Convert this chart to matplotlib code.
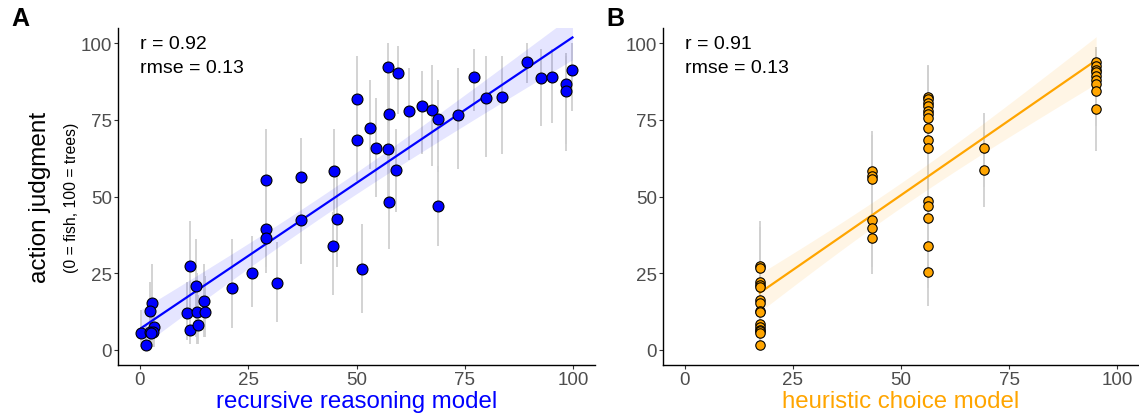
import numpy as np
import matplotlib
matplotlib.use('Agg')
from matplotlib import pyplot as plt

plt.rcParams['font.family'] = ['Liberation Sans', 'DejaVu Sans']

# ---- panel A: recursive reasoning model ----
rr_model = [0.4, 1.4, 2.9, 2.3, 3.2, 2.3, 3.1, 2.5, 11.7, 13.1, 14.9, 10.8, 13.2, 15.0, 11.5, 13.5,
            21.2, 26.0, 31.6, 29.2, 29.2, 29.2, 37.3, 37.3, 44.9, 45.5, 44.5, 50.1, 50.1, 53.2, 54.4,
            57.3, 59.5, 57.5, 57.2, 59.1, 57.5, 62.2, 65.0, 67.4, 68.9, 68.9, 51.2, 73.5, 77.0, 79.9,
            83.5, 89.3, 92.6, 95.1, 98.2, 98.2, 99.8]
rr_judg = [5.4, 1.4, 15.3, 12.5, 7.3, 5.7, 5.7, 5.4, 27.2, 20.9, 16.0, 12.1, 12.4, 12.4, 6.3, 7.9,
           20.0, 25.0, 21.7, 55.4, 39.5, 36.3, 56.4, 42.2, 58.2, 42.8, 33.8, 81.8, 68.5, 72.3, 65.8,
           92.4, 90.2, 77.0, 65.6, 58.5, 48.3, 77.8, 79.5, 78.3, 75.2, 46.8, 26.2, 76.5, 89.0, 82.1,
           82.4, 94.0, 88.7, 88.9, 86.7, 84.4, 91.3]
rr_lo = [1, 0, 3, 3, 1, 1, 1, 1, 10, 4, 4, 3, 2, 4, 2, 2,
         7, 14, 9, 38, 27, 25, 44, 28, 42, 27, 18, 66, 55, 59, 50,
         78, 77, 60, 46, 45, 33, 62, 64, 60, 58, 34, 12, 59, 78, 63,
         64, 87, 73, 74, 67, 65, 78]
rr_hi = [13, 8, 28, 22, 14, 12, 12, 11, 42, 36, 28, 22, 25, 24, 15, 18,
         36, 37, 35, 72, 52, 48, 69, 56, 72, 58, 45, 96, 82, 88, 82,
         100, 99, 90, 78, 72, 62, 92, 91, 93, 88, 60, 41, 92, 98, 96,
         96, 100, 98, 98, 97, 96, 100]

# ---- panel B: heuristic choice model ----
hc_model = [17.35] * 15 + [43.2] * 6 + [56.2] * 15 + [69.2] * 2 + [95.1] * 9
hc_judg = [27.4, 26.5, 22.0, 21.2, 20.3, 16.2, 15.4, 12.7, 12.3, 8.4, 7.5, 6.5, 6.0, 5.6, 1.6,
           58.2, 56.8, 55.7, 42.4, 39.6, 36.4,
           82.4, 81.8, 80.6, 79.6, 78.0, 76.9, 75.5, 72.4, 68.5, 65.7, 48.4, 47.0, 43.0, 33.9, 25.3,
           65.8, 58.6,
           94.0, 92.5, 91.2, 90.5, 89.2, 88.0, 86.8, 84.5, 78.5]
hc_lo = [13, 12, 9, 9, 8, 5, 5, 3, 3, 2, 1, 1, 1, 1, 0,
         45, 43, 42, 29, 27, 24.7,
         70, 69, 68, 67, 65, 64, 62, 59, 55, 52, 35, 33, 29, 20, 14.4,
         53, 46.5,
         86, 84, 82, 81, 79, 78, 76, 73, 65]
hc_hi = [42, 40, 35, 34, 33, 29, 28, 25, 24, 19, 18, 16, 15, 14, 8,
         71.5, 70, 69, 56, 53, 50,
         93, 92.5, 92, 91, 90, 89, 88, 85, 82, 79, 62, 60, 57, 48, 39,
         77.2, 71,
         98.7, 98, 97.5, 97, 96.5, 96, 95, 94, 91]

stats_a = ['r = 0.92', 'rmse = 0.13']
stats_b = ['r = 0.91', 'rmse = 0.13']
ticks = [0, 25, 50, 75, 100]


def lm_band(x, y, t=2.01):
    x = np.asarray(x, float)
    y = np.asarray(y, float)
    b, a = np.polyfit(x, y, 1)
    n = len(x)
    resid = y - (a + b * x)
    s = np.sqrt(np.sum(resid ** 2) / (n - 2))
    xs = np.linspace(x.min(), x.max(), 100)
    se = s * np.sqrt(1.0 / n + (xs - x.mean()) ** 2 / np.sum((x - x.mean()) ** 2))
    fit = a + b * xs
    return xs, fit, fit - t * se, fit + t * se


def draw_panel(ax, x, y, lo, hi, col, stats, xlabel, msize, band_alpha):
    ax.vlines(x, lo, hi, color='#d0d0d0', lw=1.3, zorder=1)
    xs, fit, lower, upper = lm_band(x, y)
    ax.fill_between(xs, lower, upper, color=col, alpha=band_alpha, lw=0, zorder=2)
    ax.plot(xs, fit, color=col, lw=1.6, zorder=3)
    ax.scatter(x, y, s=msize, facecolor=col, edgecolor='black', linewidth=0.8, zorder=4)
    ax.text(0, 100, stats[0], ha='left', va='center', fontsize=14)
    ax.text(0, 92.2, stats[1], ha='left', va='center', fontsize=14)
    ax.set_xlim(-5, 105)
    ax.set_ylim(-5, 105)
    ax.set_xticks(ticks)
    ax.set_yticks(ticks)
    for s in ['top', 'right']:
        ax.spines[s].set_visible(False)
    for s in ['left', 'bottom']:
        ax.spines[s].set_linewidth(1.0)
    ax.tick_params(length=3, width=0.8, color='#333333', labelcolor='#4d4d4d',
                   labelsize=13.5, pad=1.5)
    ax.set_xlabel(xlabel, color=col, fontsize=17.3, labelpad=1)


fig = plt.figure(figsize=(11.39, 4.14), dpi=100)
ax1 = fig.add_axes([118 / 1139, 48 / 414, 477 / 1139, 337 / 414])
ax2 = fig.add_axes([663 / 1139, 48 / 414, 476 / 1139, 337 / 414])

draw_panel(ax1, rr_model, rr_judg, rr_lo, rr_hi, '#0000ff', stats_a,
           'recursive reasoning model', 62, 0.1)
draw_panel(ax2, hc_model, hc_judg, hc_lo, hc_hi, '#ffa500', stats_b,
           'heuristic choice model', 46, 0.1)

fig.text(40 / 1139, 1 - 197.5 / 414, 'action judgment', rotation=90,
         ha='center', va='center', fontsize=17.5)
fig.text(71.5 / 1139, 1 - 197.5 / 414, '(0 = fish, 100 = trees)', rotation=90,
         ha='center', va='center', fontsize=11.3)

fig.text(11 / 1139, 1 - 26 / 414, 'A', fontsize=18, fontweight='bold', va='baseline')
fig.text(606 / 1139, 1 - 26 / 414, 'B', fontsize=18, fontweight='bold', va='baseline')

fig.savefig('out.png', dpi=100)
